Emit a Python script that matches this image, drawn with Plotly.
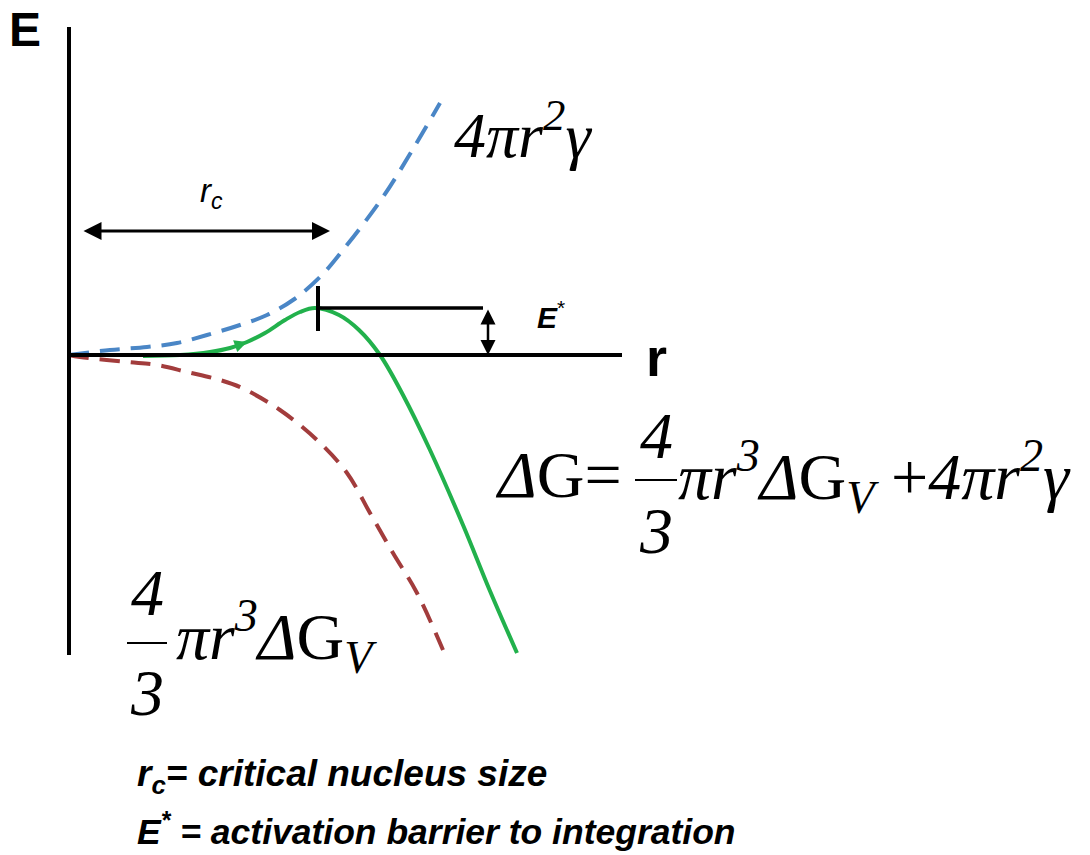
import plotly.graph_objects as go

# ---- data (r, E) in schematic units: origin at the axes crossing ----
blue_r = [0, 41, 78, 108, 138, 171, 198, 224, 251, 274, 314, 344, 371]
blue_E = [0, 5, 8, 12, 20, 30, 40, 55, 78, 105, 158, 206, 252]

red_r = [0, 11, 58, 88, 118, 151, 173, 211, 248, 278, 301, 324, 348, 374]
red_E = [0, -2, -7, -10, -17, -25, -33, -55, -85, -118, -158, -198, -238, -295]

green_r = [74, 111, 141, 161, 178, 196, 216, 231, 246, 270, 290, 311,
           334, 361, 394, 421, 448]
green_E = [-1, 0, 3, 7, 13, 22, 35, 43, 47, 40, 25, 0,
           -40, -95, -170, -236, -298]

rc_value = 249        # critical nucleus size (r at barrier top)
E_star = 47           # activation barrier height

X0, Y0 = 69, 355      # pixel location of the origin


def P(px, py):
    return px - X0, Y0 - py


BLUE = "#4a86c6"
RED = "#a23c3c"
GREEN = "#22b14c"
SERIF = "Liberation Serif"
SANS = "Liberation Sans"

fig = go.Figure()
fig.add_trace(go.Scatter(x=blue_r, y=blue_E, mode="lines",
                         line=dict(color=BLUE, width=4, dash="20px,11px", shape="spline")))
fig.add_trace(go.Scatter(x=red_r, y=red_E, mode="lines",
                         line=dict(color=RED, width=4, dash="20px,11px", shape="spline")))
fig.add_trace(go.Scatter(x=green_r, y=green_E, mode="lines",
                         line=dict(color=GREEN, width=4, shape="spline", smoothing=1.0)))

shapes = []
# axes
_, y1 = P(69, 27)
_, y2 = P(69, 655)
shapes.append(dict(type="line", x0=0, x1=0, y0=y2, y1=y1, line=dict(color="black", width=4)))
xe, _ = P(622, 355)
shapes.append(dict(type="line", x0=0, x1=xe, y0=0, y1=0, line=dict(color="black", width=4)))
# barrier tick and level line
ty0 = Y0 - 331
ty1 = Y0 - 286
shapes.append(dict(type="line", x0=rc_value, x1=rc_value, y0=ty0, y1=ty1,
                   line=dict(color="black", width=4)))
hx1, _ = P(483, 308)
shapes.append(dict(type="line", x0=rc_value, x1=hx1, y0=E_star, y1=E_star,
                   line=dict(color="black", width=3.5)))
# fraction bars
fx0, fy = P(635, 480)
fx1, _ = P(677, 480)
shapes.append(dict(type="line", x0=fx0, x1=fx1, y0=fy, y1=fy, line=dict(color="black", width=2)))
gx0, gy = P(127, 643)
gx1, _ = P(167, 643)
shapes.append(dict(type="line", x0=gx0, x1=gx1, y0=gy, y1=gy, line=dict(color="black", width=2)))

ann = []


def text(px, py, t, size, family, xanchor="center", yanchor="middle"):
    ax_, ay_ = P(px, py)
    ann.append(dict(x=ax_, y=ay_, text=t, showarrow=False, xanchor=xanchor, yanchor=yanchor,
                    font=dict(size=size, family=family, color="black")))


text(25, 29, "<b>E</b>", 48, SANS)
text(656, 357, "<b>r</b>", 54, SANS)
text(211, 193, "<i>r<sub>c</sub></i>", 33, SANS)
text(551, 315, "<b><i>E</i></b><sup>*</sup>", 30, SANS)
text(452, 130, "<i>4πr</i><sup><i>2</i></sup><i>γ</i>", 64, SERIF, xanchor="left")

# main formula
text(624, 474, "<i>Δ</i>G=", 66, SERIF, xanchor="right")
text(656, 435, "<i>4</i>", 66, SERIF)
text(656, 530, "<i>3</i>", 66, SERIF)
text(676, 476, "<i>πr</i><sup><i>3</i></sup><i>Δ</i>G<sub><i>V</i></sub> +<i>4πr</i><sup><i>2</i></sup><i>γ</i>",
     66, SERIF, xanchor="left")

# lower formula
text(147, 592, "<i>4</i>", 66, SERIF)
text(147, 692, "<i>3</i>", 66, SERIF)
text(174, 636, "<i>πr</i><sup><i>3</i></sup><i>Δ</i>G<sub><i>V</i></sub>", 66, SERIF, xanchor="left")

# footnotes
text(135, 776, "<b><i>r<sub>c</sub>= critical nucleus size</i></b>", 37, SANS, xanchor="left")
text(135, 829, "<b><i>E<sup>*</sup> = activation barrier to integration</i></b>", 35.5, SANS, xanchor="left")

# double arrows
a0x, a0y = P(82, 231)
a1x, _ = P(330, 231)
ann.append(dict(x=a1x, y=a0y, ax=a0x, ay=a0y, axref="x", ayref="y", xref="x", yref="y",
                text="", showarrow=True, arrowhead=2, arrowside="end+start",
                arrowsize=1.2, arrowwidth=3, arrowcolor="black"))
bx, by0 = P(488, 308)
_, by1 = P(488, 355)
ann.append(dict(x=bx, y=by1, ax=bx, ay=by0, axref="x", ayref="y", xref="x", yref="y",
                text="", showarrow=True, arrowhead=2, arrowside="end+start",
                arrowsize=1.2, arrowwidth=2.5, arrowcolor="black"))
# small arrowhead on green curve
ann.append(dict(x=green_r[4], y=green_E[4], ax=green_r[3], ay=green_E[3], axref="x", ayref="y",
                xref="x", yref="y", text="", showarrow=True, arrowhead=2, arrowsize=1,
                arrowwidth=2.5, arrowcolor=GREEN))

fig.update_layout(
    width=1090, height=855, margin=dict(l=0, r=0, t=0, b=0),
    paper_bgcolor="white", plot_bgcolor="white", showlegend=False,
    xaxis=dict(range=[-X0, 1090 - X0], visible=False, fixedrange=True),
    yaxis=dict(range=[Y0 - 855, Y0], visible=False, fixedrange=True),
    shapes=shapes, annotations=ann,
)
fig.write_html("out.html")
